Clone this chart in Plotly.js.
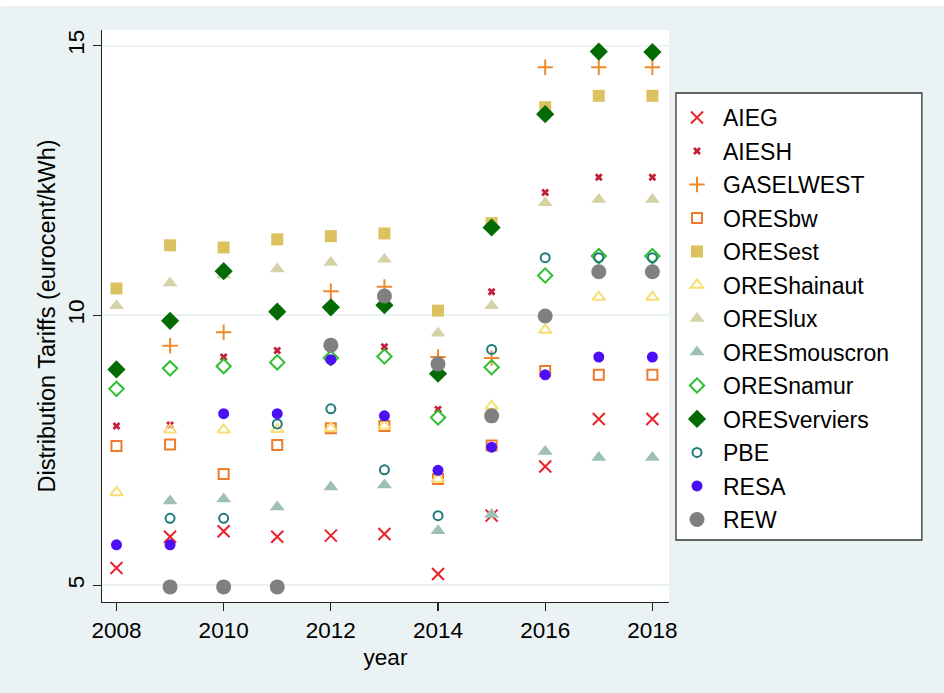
<!DOCTYPE html>
<html>
<head>
<meta charset="utf-8">
<script src="https://cdn.plot.ly/plotly-3.0.1.min.js"></script>
<style>html,body{margin:0;padding:0;background:#eaf2f3;}#chart{width:944px;height:693px;}</style>
</head>
<body>
<div id="chart"></div>
<script>
var years = [2008, 2009, 2010, 2011, 2012, 2013, 2014, 2015, 2016, 2017, 2018];

var AIEG        = [5.32, 5.90, 6.00, 5.90, 5.92, 5.95, 5.21, 6.29, 7.20, 8.08, 8.08];
var AIESH       = [7.95, 7.97, 9.23, 9.35, null, 9.42, 8.26, 10.44, 12.28, 12.56, 12.56];
var GASELWEST   = [null, 9.44, 9.69, null, 10.45, 10.53, 9.23, 9.21, 14.60, 14.60, 14.60];
var ORESbw      = [7.58, 7.61, 7.06, 7.60, 7.91, 7.95, 6.97, 7.59, 8.97, 8.90, 8.90];
var ORESest     = [10.50, 11.30, 11.26, 11.41, 11.47, 11.52, 10.09, 11.71, 13.86, 14.07, 14.07];
var OREShainaut = [6.72, 7.88, 7.88, 7.89, 7.91, 7.95, 6.97, 8.32, 9.73, 10.34, 10.34];
var ORESlux     = [10.18, 10.60, 10.75, 10.86, 10.98, 11.04, 9.67, 10.18, 12.09, 12.15, 12.15];
var ORESmouscron= [null, 6.56, 6.60, 6.45, 6.82, 6.86, 6.01, 6.31, 7.48, 7.37, 7.37];
var ORESnamur   = [8.64, 9.02, 9.06, 9.13, 9.21, 9.24, 8.11, 9.04, 10.74, 11.10, 11.10];
var ORESverviers= [9.00, 9.90, 10.82, 10.07, 10.15, 10.19, 8.92, 11.63, 13.73, 14.89, 14.88];
var PBE         = [null, 6.24, 6.24, 7.99, 8.27, 7.14, 6.29, 9.37, 11.07, 11.07, 11.07];
var RESA        = [5.75, 5.75, 8.18, 8.18, 9.18, 8.14, 7.13, 7.56, 8.90, 9.23, 9.23];
var REW         = [null, 4.97, 4.97, 4.97, 9.45, 10.36, 9.10, 8.14, 9.99, 10.81, 10.81];

var yTickVals = [5, 10, 15];
var yTickText = ['5', '10', '15'];
var xTickVals = [2008, 2010, 2012, 2014, 2016, 2018];

var series = [
  {name: 'AIEG', y: AIEG, symbol: 'x-thin-open', color: '#e8232b', size: 12, lw: 2},
  {name: 'AIESH', y: AIESH, symbol: 'x', color: '#c41e3a', size: 7, lw: 0},
  {name: 'GASELWEST', y: GASELWEST, symbol: 'cross-thin-open', color: '#f08a2c', size: 11, lw: 2},
  {name: 'ORESbw', y: ORESbw, symbol: 'square-open', color: '#ee7b2c', size: 10, lw: 2},
  {name: 'ORESest', y: ORESest, symbol: 'square', color: '#dcc25e', size: 12, lw: 0},
  {name: 'OREShainaut', y: OREShainaut, symbol: 'triangle-up-open', color: '#f8de72', size: 11, lw: 2},
  {name: 'ORESlux', y: ORESlux, symbol: 'triangle-up', color: '#d5d3a6', size: 13, lw: 0},
  {name: 'ORESmouscron', y: ORESmouscron, symbol: 'triangle-up', color: '#9dbfb7', size: 13, lw: 0},
  {name: 'ORESnamur', y: ORESnamur, symbol: 'diamond-open', color: '#2fbf2f', size: 11, lw: 2},
  {name: 'ORESverviers', y: ORESverviers, symbol: 'diamond', color: '#046b04', size: 14, lw: 0},
  {name: 'PBE', y: PBE, symbol: 'circle-open', color: '#1f7b7b', size: 9, lw: 2},
  {name: 'RESA', y: RESA, symbol: 'circle', color: '#4b10f5', size: 11, lw: 0},
  {name: 'REW', y: REW, symbol: 'circle', color: '#808080', size: 15, lw: 0}
];

var traces = series.map(function(s, i) {
  return {
    type: 'scatter', mode: 'markers', name: s.name, x: years, y: s.y,
    legendgroup: 'g' + i,
    marker: {symbol: s.symbol, color: s.color, size: s.size,
             line: {color: s.color, width: s.lw}},
    cliponaxis: false
  };
});

var L = 101.7, R = 669, T = 30, B = 602, W = 944, H = 693;
var pw = R - L, ph = B - T;
function px2x(p) { return (p - L) / pw; }
function px2y(p) { return (B - p) / ph; }

var layout = {
  width: W, height: H,
  paper_bgcolor: '#eaf2f3',
  plot_bgcolor: '#ffffff',
  margin: {l: L, r: W - R, t: T, b: H - B, pad: 0},
  font: {family: 'Liberation Sans, Arial, sans-serif', color: '#000', size: 22},
  showlegend: true,
  legend: {
    x: px2x(671), y: px2y(96), xanchor: 'left', yanchor: 'top',
    bgcolor: 'rgba(0,0,0,0)', borderwidth: 0,
    font: {size: 23, color: '#000'},
    tracegroupgap: 0.6,
    itemwidth: 42,
    itemclick: false
  },
  xaxis: {
    range: [2007.73, 2018.31],
    tickvals: xTickVals,
    ticks: 'outside', ticklen: 8, tickwidth: 1.3, tickcolor: '#222',
    showline: true, linecolor: '#222', linewidth: 1.3,
    showgrid: false, zeroline: false,
    tickfont: {size: 22.5},
    title: {text: 'year', font: {size: 22.5}, standoff: 7}
  },
  yaxis: {
    range: [4.69, 15.29],
    tickvals: yTickVals, ticktext: yTickText,
    tickangle: -90,
    ticks: 'outside', ticklen: 8, tickwidth: 1.3, tickcolor: '#222',
    showline: true, linecolor: '#222', linewidth: 1.3,
    showgrid: true, gridcolor: '#eaf2f3', gridwidth: 2,
    zeroline: false,
    tickfont: {size: 22.5},
    title: {text: 'Distribution Tariffs (eurocent/kWh)', font: {size: 23.5}, standoff: 1}
  },
  shapes: [
    {type: 'rect', xref: 'paper', yref: 'paper',
     x0: px2x(0), x1: px2x(W), y0: px2y(6), y1: px2y(0),
     fillcolor: '#ffffff', line: {width: 0}, layer: 'below'},
    {type: 'rect', xref: 'paper', yref: 'paper',
     x0: px2x(676), x1: px2x(922), y0: px2y(540), y1: px2y(93),
     fillcolor: '#ffffff', line: {color: '#333333', width: 1.3}, layer: 'below'}
  ]
};

Plotly.newPlot('chart', traces, layout, {displayModeBar: false, staticPlot: true});
</script>
</body>
</html>
